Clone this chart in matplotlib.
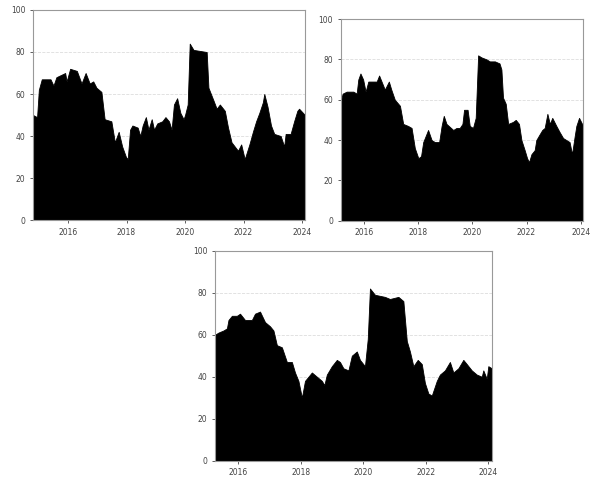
import matplotlib.pyplot as plt

# panel 1 (top left)
t1 = [2014.8, 2014.94, 2015.0, 2015.1, 2015.4, 2015.5, 2015.6, 2015.9, 2015.95, 2016.07,
      2016.3, 2016.46, 2016.6, 2016.74, 2016.86, 2016.97, 2017.14, 2017.25, 2017.48, 2017.6,
      2017.73, 2017.85, 2017.98, 2018.04, 2018.12, 2018.2, 2018.38, 2018.47, 2018.55, 2018.66,
      2018.75, 2018.86, 2018.94, 2019.05, 2019.22, 2019.33, 2019.45, 2019.54, 2019.62, 2019.73,
      2019.84, 2019.95, 2020.0, 2020.09, 2020.16, 2020.29, 2020.74, 2020.8, 2020.97, 2021.08,
      2021.19, 2021.36, 2021.47, 2021.59, 2021.7, 2021.81, 2021.92, 2022.04, 2022.2, 2022.32,
      2022.43, 2022.54, 2022.66, 2022.71, 2022.82, 2022.94, 2023.05, 2023.27, 2023.39, 2023.44,
      2023.61, 2023.73, 2023.84, 2023.9, 2024.1]
v1 = [50, 49, 62, 67, 67, 64, 68, 70, 66, 72,
      71, 65, 70, 65, 66, 63, 61, 48, 47, 37,
      42, 35, 30, 29, 43, 45, 44, 40, 45, 49,
      43, 48, 43, 46, 47, 49, 47, 43, 55, 58,
      51, 48, 50, 55, 84, 81, 80, 63, 57, 53,
      55, 52, 44, 37, 35, 33, 36, 29, 36, 42,
      47, 51, 56, 60, 54, 45, 41, 40, 35, 41,
      41, 47, 52, 53, 50]

# panel 2 (top right)
t2 = [2015.13, 2015.2, 2015.35, 2015.6, 2015.72, 2015.78, 2015.86, 2015.96, 2016.05, 2016.15,
      2016.46, 2016.55, 2016.64, 2016.76, 2016.91, 2017.0, 2017.13, 2017.32, 2017.44, 2017.62,
      2017.75, 2017.87, 2018.0, 2018.1, 2018.18, 2018.36, 2018.49, 2018.61, 2018.77, 2018.86,
      2018.94, 2019.04, 2019.29, 2019.41, 2019.53, 2019.63, 2019.69, 2019.82, 2019.9, 2020.02,
      2020.12, 2020.21, 2020.33, 2020.52, 2020.64, 2020.83, 2021.0, 2021.07, 2021.13, 2021.23,
      2021.32, 2021.5, 2021.6, 2021.72, 2021.81, 2021.93, 2022.02, 2022.09, 2022.18, 2022.3,
      2022.36, 2022.49, 2022.58, 2022.67, 2022.77, 2022.86, 2022.95, 2023.1, 2023.22, 2023.35,
      2023.47, 2023.59, 2023.68, 2023.78, 2023.84, 2023.94, 2024.09]
v2 = [59, 63, 64, 64, 63, 70, 73, 70, 64, 69,
      69, 72, 69, 65, 69, 65, 60, 57, 48, 47,
      46, 36, 31, 32, 39, 45, 40, 39, 39, 47,
      52, 48, 45, 46, 46, 48, 55, 55, 47, 46,
      51, 82, 81, 80, 79, 79, 78, 75, 61, 58,
      48, 49, 50, 48, 40, 35, 31, 29, 33, 35,
      40, 43, 45, 46, 53, 48, 51, 47, 44, 41,
      40, 39, 33, 42, 47, 51, 47]

# panel 3 (bottom)
t3 = [2015.25, 2015.36, 2015.52, 2015.63, 2015.68, 2015.79, 2015.95, 2016.05, 2016.21, 2016.43,
      2016.53, 2016.69, 2016.85, 2017.01, 2017.12, 2017.23, 2017.39, 2017.55, 2017.71, 2017.81,
      2017.92, 2018.03, 2018.13, 2018.24, 2018.35, 2018.51, 2018.67, 2018.75, 2018.83, 2018.99,
      2019.15, 2019.25, 2019.36, 2019.52, 2019.63, 2019.79, 2019.89, 2020.05, 2020.14, 2020.21,
      2020.37, 2020.69, 2020.85, 2021.12, 2021.28, 2021.39, 2021.49, 2021.6, 2021.74, 2021.87,
      2021.97, 2022.08, 2022.19, 2022.35, 2022.45, 2022.61, 2022.77, 2022.88, 2023.04, 2023.2,
      2023.31, 2023.47, 2023.63, 2023.79, 2023.84, 2023.95, 2024.0, 2024.11]
v3 = [60, 61, 62, 63, 67, 69, 69, 70, 67, 67,
      70, 71, 66, 64, 62, 55, 54, 47, 47, 42,
      38, 30, 38, 40, 42, 40, 38, 36, 41, 45,
      48, 47, 44, 43, 50, 52, 48, 45, 58, 82,
      79, 78, 77, 78, 76, 57, 52, 45, 48, 46,
      37, 32, 31, 38, 41, 43, 47, 42, 44, 48,
      46, 43, 41, 40, 43, 39, 45, 44]

panels = [
    (t1, v1, [0.0547, 0.5445, 0.451, 0.4348], (2014.8, 2024.1)),
    (t2, v2, [0.565, 0.543, 0.402, 0.4176], (2015.13, 2024.09)),
    (t3, v3, [0.3566, 0.0462, 0.4589, 0.4348], (2015.25, 2024.11)),
]

fig = plt.figure(figsize=(6.03, 4.83), dpi=100)
for t, v, rect, xlim in panels:
    ax = fig.add_axes(rect)
    ax.fill_between(t, v, 0, color='black', linewidth=0.6, edgecolor='black')
    ax.set_xlim(*xlim)
    ax.set_ylim(0, 100)
    ax.set_yticks(range(0, 101, 20))
    ax.set_xticks(range(2016, 2025, 2))
    ax.grid(axis='y', linestyle='--', color='#dddddd', linewidth=0.6)
    ax.set_axisbelow(True)
    for s in ax.spines.values():
        s.set_color('#999999')
        s.set_linewidth(0.8)
    ax.tick_params(labelsize=5.5, colors='#444444', length=2, width=0.6)

fig.savefig('out.png', dpi=100)
